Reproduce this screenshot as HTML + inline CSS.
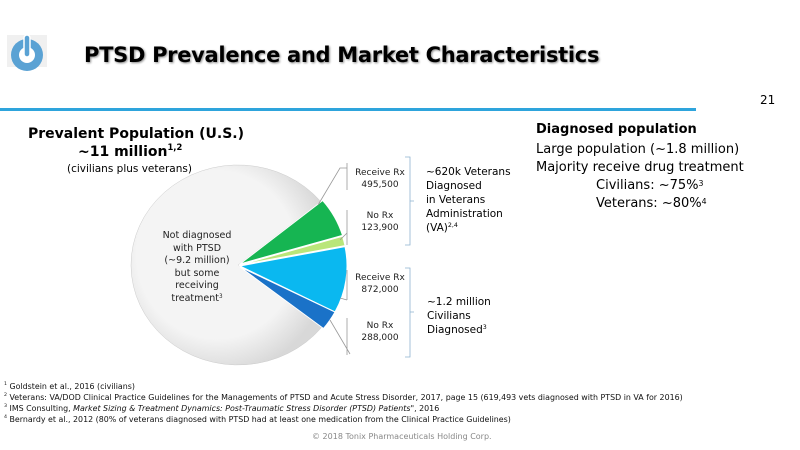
<!DOCTYPE html>
<html><head><meta charset="utf-8"><style>
body{margin:0;width:800px;height:450px;background:#fff;font-family:"DejaVu Sans","Liberation Sans",sans-serif;position:relative;overflow:hidden}
.a{position:absolute;white-space:nowrap}
.s{font-size:9px;color:#222;text-align:center;line-height:12px}
.f{font-size:7.9px;color:#111;left:4px;line-height:11px}
sup{font-size:60%;vertical-align:top;position:relative;top:-2px}
</style></head><body>
<svg class="a" style="left:0;top:0" width="800" height="450">
<rect x="7" y="35" width="40" height="32" fill="#f0f0f0"/>
<circle cx="27" cy="55" r="16" fill="#5aa2d4"/><circle cx="27" cy="55" r="8" fill="#fff"/>
<rect x="24" y="35" width="6" height="22" rx="3" fill="#5aa2d4" stroke="#fff" stroke-width="1.5"/>
<rect x="0" y="108" width="696" height="3" fill="#2ea4dc"/>
<defs><radialGradient id="g" cx="0.45" cy="0.45" r="0.6"><stop offset="0.7" stop-color="#f4f4f4"/><stop offset="1" stop-color="#d8d8d8"/></radialGradient></defs>
<path d="M238,265 L321.5,327.5 A107,100 0 1 1 320.7,201.5 Z" fill="url(#g)" stroke="#ccc" stroke-width="0.5"/>
<path d="M240,264 L322.7,200.5 A107,100 0 0 1 342.5,235.3 Z" fill="#16b552" stroke="#fff"/>
<path d="M240,265 L342.5,236.3 A107,100 0 0 1 345,245.6 Z" fill="#b9e67a" stroke="#fff"/>
<path d="M240,266 L345,246.6 A107,100 0 0 1 335,312 Z" fill="#0ab8f0" stroke="#fff"/>
<path d="M240,267 L335,312 A107,100 0 0 1 323.5,328.5 Z" fill="#1a72c8" stroke="#fff"/>
<g stroke="#999" fill="none" stroke-width="0.8">
<path d="M318,205 L340,168 L347,168 M347,163 L347,190"/>
<path d="M340,240 L347,233 M347,210 L347,245"/>
<path d="M340,298 L347,300 M347,270 L347,300"/>
<path d="M330,320 L350,354 M347,318 L347,355"/>
</g>
<g stroke="#8fb3d0" fill="none" stroke-width="0.8">
<path d="M405,157 L410,157 L410,245 L405,245 M410,201 L414,201"/>
<path d="M405,268 L410,268 L410,357 L405,357 M410,312 L414,312"/>
</g>
</svg>
<div class="a" style="left:84px;top:43px;font-size:21px;font-weight:bold;text-shadow:1px 1px 2px #888;letter-spacing:-0.3px">PTSD Prevalence and Market Characteristics</div>
<div class="a" style="left:760px;top:93px;font-size:12px">21</div>
<div class="a" style="left:28px;top:126px;font-size:14px;font-weight:bold">Prevalent Population (U.S.)</div>
<div class="a" style="left:78px;top:144px;font-size:14px;font-weight:bold">~11 million<sup>1,2</sup></div>
<div class="a" style="left:67px;top:163px;font-size:10.5px">(civilians plus veterans)</div>
<div class="a s" style="left:160px;top:230px;width:74px;font-size:9.5px;line-height:12.5px">Not diagnosed<br>with PTSD<br>(~9.2 million)<br>but some<br>receiving<br>treatment<sup>3</sup></div>
<div class="a s" style="left:350px;top:167px;width:60px">Receive Rx<br>495,500</div>
<div class="a s" style="left:350px;top:210px;width:60px">No Rx<br>123,900</div>
<div class="a s" style="left:350px;top:272px;width:60px">Receive Rx<br>872,000</div>
<div class="a s" style="left:350px;top:320px;width:60px">No Rx<br>288,000</div>
<div class="a" style="left:426px;top:165px;font-size:10.5px;line-height:14px">~620k Veterans<br>Diagnosed<br>in Veterans<br>Administration<br>(VA)<sup>2,4</sup></div>
<div class="a" style="left:427px;top:295px;font-size:10.5px;line-height:14px">~1.2 million<br>Civilians<br>Diagnosed<sup>3</sup></div>
<div class="a" style="left:536px;top:122px;font-size:13px;font-weight:bold">Diagnosed population</div>
<div class="a" style="left:536px;top:141px;font-size:13px;line-height:18px">Large population (~1.8 million)<br>Majority receive drug treatment</div>
<div class="a" style="left:596px;top:177px;font-size:13px;line-height:18px">Civilians: ~75%<sup>3</sup><br>Veterans: ~80%<sup>4</sup></div>
<div class="a f" style="top:381px"><sup>1</sup> Goldstein et al., 2016 (civilians)</div>
<div class="a f" style="top:392px"><sup>2</sup> Veterans: VA/DOD Clinical Practice Guidelines for the Managements of PTSD and Acute Stress Disorder, 2017, page 15 (619,493 vets diagnosed with PTSD in VA for 2016)</div>
<div class="a f" style="top:403px"><sup>3</sup> IMS Consulting, <i>Market Sizing &amp; Treatment Dynamics: Post-Traumatic Stress Disorder (PTSD) Patients"</i>, 2016</div>
<div class="a f" style="top:414px"><sup>4</sup> Bernardy et al., 2012 (80% of veterans diagnosed with PTSD had at least one medication from the Clinical Practice Guidelines)</div>
<div class="a" style="left:312px;top:432px;font-size:8px;color:#888">© 2018 Tonix Pharmaceuticals Holding Corp.</div>
</body></html>
